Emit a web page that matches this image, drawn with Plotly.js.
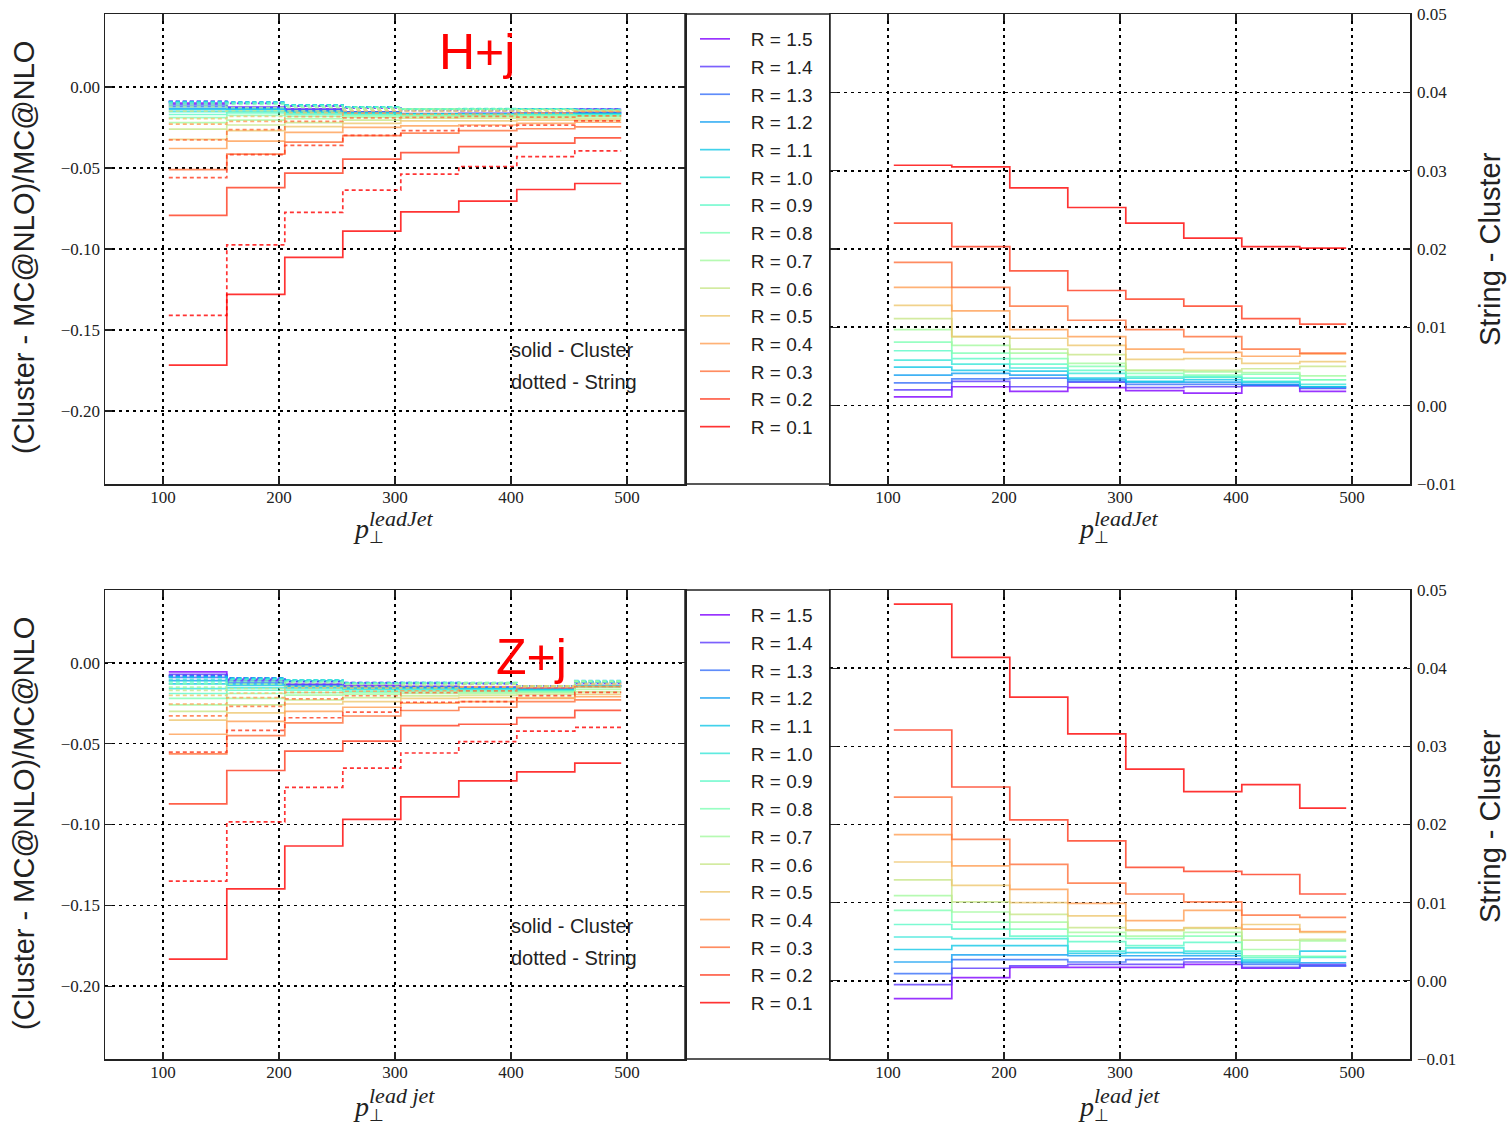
<!DOCTYPE html>
<html>
<head>
<meta charset="utf-8">
<script src="https://cdn.plot.ly/plotly-3.0.1.min.js"></script>
<style>
html,body{margin:0;padding:0;background:#fff;}
#chart{width:1511px;height:1134px;}
</style>
</head>
<body>
<div id="chart"></div>
<script>
// ---------------- DATA ----------------
// jet radius R (rows of every table below follow this order)
const R_LABELS = ['0.1','0.2','0.3','0.4','0.5','0.6','0.7','0.8','0.9','1.0','1.1','1.2','1.3','1.4','1.5'];
// pT(lead jet) bin edges
const PT_EDGES = [105, 155, 205, 255, 305, 355, 405, 455, 495];

// H+j : (Cluster - MC@NLO)/MC@NLO   (solid)
const HJ_CLUSTER = [
  [-0.1716,-0.1280,-0.1052,-0.0890,-0.0771,-0.0705,-0.0633,-0.0596],
  [-0.0793,-0.0621,-0.0532,-0.0446,-0.0405,-0.0368,-0.0347,-0.0314],
  [-0.0510,-0.0415,-0.0340,-0.0300,-0.0285,-0.0270,-0.0258,-0.0246],
  [-0.0380,-0.0334,-0.0280,-0.0250,-0.0240,-0.0235,-0.0225,-0.0218],
  [-0.0324,-0.0270,-0.0245,-0.0225,-0.0210,-0.0210,-0.0205,-0.0205],
  [-0.0260,-0.0235,-0.0220,-0.0205,-0.0192,-0.0192,-0.0192,-0.0195],
  [-0.0220,-0.0205,-0.0195,-0.0188,-0.0182,-0.0182,-0.0183,-0.0185],
  [-0.0190,-0.0175,-0.0180,-0.0178,-0.0176,-0.0176,-0.0177,-0.0180],
  [-0.0170,-0.0160,-0.0168,-0.0170,-0.0172,-0.0172,-0.0172,-0.0174],
  [-0.0153,-0.0150,-0.0160,-0.0165,-0.0170,-0.0170,-0.0168,-0.0170],
  [-0.0140,-0.0140,-0.0155,-0.0160,-0.0168,-0.0168,-0.0166,-0.0166],
  [-0.0132,-0.0135,-0.0150,-0.0158,-0.0166,-0.0166,-0.0164,-0.0163],
  [-0.0120,-0.0130,-0.0145,-0.0156,-0.0166,-0.0165,-0.0163,-0.0161],
  [-0.0110,-0.0127,-0.0140,-0.0155,-0.0165,-0.0165,-0.0162,-0.0158],
  [-0.0100,-0.0125,-0.0136,-0.0154,-0.0166,-0.0164,-0.0163,-0.0156]
];
// H+j : (String - MC@NLO)/MC@NLO   (dotted)
const HJ_STRING = [
  [-0.1409,-0.0975,-0.0774,-0.0637,-0.0538,-0.0491,-0.0430,-0.0395],
  [-0.0560,-0.0418,-0.0360,-0.0299,-0.0269,-0.0241,-0.0236,-0.0210],
  [-0.0327,-0.0264,-0.0213,-0.0191,-0.0188,-0.0182,-0.0186,-0.0179],
  [-0.0229,-0.0213,-0.0183,-0.0162,-0.0168,-0.0167,-0.0162,-0.0152],
  [-0.0196,-0.0182,-0.0159,-0.0148,-0.0151,-0.0150,-0.0151,-0.0149],
  [-0.0149,-0.0147,-0.0148,-0.0140,-0.0147,-0.0147,-0.0145,-0.0145],
  [-0.0123,-0.0128,-0.0128,-0.0134,-0.0137,-0.0139,-0.0141,-0.0147],
  [-0.0109,-0.0108,-0.0120,-0.0128,-0.0135,-0.0137,-0.0137,-0.0147],
  [-0.0100,-0.0100,-0.0115,-0.0125,-0.0135,-0.0135,-0.0137,-0.0141],
  [-0.0095,-0.0097,-0.0112,-0.0124,-0.0135,-0.0134,-0.0137,-0.0143],
  [-0.0091,-0.0095,-0.0111,-0.0125,-0.0137,-0.0135,-0.0136,-0.0142],
  [-0.0093,-0.0094,-0.0111,-0.0125,-0.0136,-0.0136,-0.0137,-0.0139],
  [-0.0091,-0.0096,-0.0110,-0.0125,-0.0139,-0.0138,-0.0137,-0.0138],
  [-0.0090,-0.0096,-0.0116,-0.0125,-0.0142,-0.0141,-0.0137,-0.0136],
  [-0.0089,-0.0101,-0.0118,-0.0131,-0.0147,-0.0148,-0.0137,-0.0138]
];
// H+j : String - Cluster
const HJ_DIFF = [
  [0.0307,0.0305,0.0278,0.0253,0.0233,0.0214,0.0203,0.0201],
  [0.0233,0.0203,0.0172,0.0147,0.0136,0.0127,0.0111,0.0104],
  [0.0183,0.0151,0.0127,0.0109,0.0097,0.0088,0.0072,0.0067],
  [0.0151,0.0121,0.0097,0.0088,0.0072,0.0068,0.0063,0.0066],
  [0.0128,0.0088,0.0086,0.0077,0.0059,0.0060,0.0054,0.0056],
  [0.0111,0.0088,0.0072,0.0065,0.0045,0.0045,0.0047,0.0050],
  [0.0097,0.0077,0.0067,0.0054,0.0045,0.0043,0.0042,0.0038],
  [0.0081,0.0067,0.0060,0.0050,0.0041,0.0039,0.0040,0.0033],
  [0.0070,0.0060,0.0053,0.0045,0.0037,0.0037,0.0035,0.0033],
  [0.0058,0.0053,0.0048,0.0041,0.0035,0.0036,0.0031,0.0027],
  [0.0049,0.0045,0.0044,0.0035,0.0031,0.0033,0.0030,0.0024],
  [0.0039,0.0041,0.0039,0.0033,0.0030,0.0030,0.0027,0.0024],
  [0.0029,0.0034,0.0035,0.0031,0.0027,0.0027,0.0026,0.0023],
  [0.0020,0.0031,0.0024,0.0030,0.0023,0.0024,0.0025,0.0022],
  [0.0011,0.0024,0.0018,0.0023,0.0019,0.0016,0.0026,0.0018]
];

// Z+j : (Cluster - MC@NLO)/MC@NLO   (solid)
const ZJ_CLUSTER = [
  [-0.1832,-0.1398,-0.1133,-0.0968,-0.0829,-0.0730,-0.0674,-0.0620],
  [-0.0873,-0.0666,-0.0546,-0.0484,-0.0389,-0.0380,-0.0339,-0.0294],
  [-0.0563,-0.0450,-0.0372,-0.0329,-0.0295,-0.0275,-0.0240,-0.0229],
  [-0.0442,-0.0362,-0.0300,-0.0275,-0.0250,-0.0240,-0.0220,-0.0210],
  [-0.0354,-0.0310,-0.0255,-0.0240,-0.0220,-0.0215,-0.0215,-0.0195],
  [-0.0300,-0.0260,-0.0230,-0.0215,-0.0205,-0.0200,-0.0195,-0.0180],
  [-0.0260,-0.0220,-0.0200,-0.0195,-0.0190,-0.0188,-0.0185,-0.0165],
  [-0.0220,-0.0190,-0.0185,-0.0185,-0.0180,-0.0180,-0.0180,-0.0150],
  [-0.0190,-0.0170,-0.0170,-0.0175,-0.0170,-0.0172,-0.0175,-0.0145],
  [-0.0160,-0.0155,-0.0160,-0.0165,-0.0165,-0.0165,-0.0170,-0.0145],
  [-0.0130,-0.0140,-0.0150,-0.0160,-0.0160,-0.0160,-0.0168,-0.0148],
  [-0.0110,-0.0130,-0.0145,-0.0155,-0.0155,-0.0158,-0.0165,-0.0142],
  [-0.0090,-0.0120,-0.0140,-0.0150,-0.0150,-0.0155,-0.0163,-0.0140],
  [-0.0072,-0.0110,-0.0135,-0.0145,-0.0148,-0.0152,-0.0160,-0.0142],
  [-0.0056,-0.0105,-0.0132,-0.0140,-0.0145,-0.0150,-0.0158,-0.0145]
];
// Z+j : (String - MC@NLO)/MC@NLO   (dotted)
const ZJ_STRING = [
  [-0.1350,-0.0984,-0.0770,-0.0652,-0.0558,-0.0488,-0.0423,-0.0399],
  [-0.0552,-0.0418,-0.0340,-0.0305,-0.0244,-0.0240,-0.0203,-0.0183],
  [-0.0328,-0.0269,-0.0223,-0.0204,-0.0184,-0.0174,-0.0156,-0.0148],
  [-0.0255,-0.0215,-0.0183,-0.0176,-0.0173,-0.0150,-0.0154,-0.0147],
  [-0.0202,-0.0188,-0.0155,-0.0157,-0.0155,-0.0147,-0.0143,-0.0133],
  [-0.0171,-0.0159,-0.0145,-0.0147,-0.0141,-0.0133,-0.0143,-0.0127],
  [-0.0151,-0.0132,-0.0125,-0.0133,-0.0133,-0.0126,-0.0145,-0.0114],
  [-0.0130,-0.0115,-0.0119,-0.0128,-0.0126,-0.0123,-0.0148,-0.0119],
  [-0.0118,-0.0104,-0.0113,-0.0125,-0.0125,-0.0123,-0.0145,-0.0114],
  [-0.0104,-0.0101,-0.0106,-0.0127,-0.0123,-0.0127,-0.0143,-0.0115],
  [-0.0090,-0.0095,-0.0105,-0.0125,-0.0124,-0.0125,-0.0143,-0.0110],
  [-0.0086,-0.0097,-0.0112,-0.0123,-0.0123,-0.0126,-0.0142,-0.0119],
  [-0.0081,-0.0093,-0.0113,-0.0126,-0.0123,-0.0127,-0.0142,-0.0121],
  [-0.0077,-0.0094,-0.0116,-0.0124,-0.0127,-0.0128,-0.0143,-0.0121],
  [-0.0079,-0.0101,-0.0115,-0.0123,-0.0128,-0.0129,-0.0142,-0.0126]
];
// Z+j : String - Cluster
const ZJ_DIFF = [
  [0.0482,0.0414,0.0363,0.0316,0.0271,0.0242,0.0251,0.0221],
  [0.0321,0.0248,0.0206,0.0179,0.0145,0.0140,0.0136,0.0111],
  [0.0235,0.0181,0.0149,0.0125,0.0111,0.0101,0.0084,0.0081],
  [0.0187,0.0147,0.0117,0.0099,0.0077,0.0090,0.0066,0.0063],
  [0.0152,0.0122,0.0100,0.0083,0.0065,0.0068,0.0072,0.0062],
  [0.0129,0.0101,0.0085,0.0068,0.0064,0.0067,0.0052,0.0053],
  [0.0109,0.0088,0.0075,0.0062,0.0057,0.0062,0.0040,0.0051],
  [0.0090,0.0075,0.0066,0.0057,0.0054,0.0057,0.0032,0.0031],
  [0.0072,0.0066,0.0057,0.0050,0.0045,0.0049,0.0030,0.0031],
  [0.0056,0.0054,0.0054,0.0038,0.0042,0.0038,0.0027,0.0030],
  [0.0040,0.0045,0.0045,0.0035,0.0036,0.0035,0.0025,0.0038],
  [0.0024,0.0033,0.0033,0.0032,0.0032,0.0032,0.0023,0.0023],
  [0.0009,0.0027,0.0027,0.0024,0.0027,0.0028,0.0021,0.0019],
  [-0.0005,0.0016,0.0019,0.0021,0.0021,0.0024,0.0017,0.0021],
  [-0.0023,0.0004,0.0017,0.0017,0.0017,0.0021,0.0016,0.0019]
];

// ---------------- STYLE / LAYOUT ----------------
const W = 1511, H = 1134;
const px = x => x / W;
const py = y => 1 - y / H;

function rainbow(t) {
  const r = Math.min(1, Math.abs(2 * t - 0.5));
  const g = Math.sin(Math.PI * t);
  const b = Math.cos(Math.PI * t / 2);
  return 'rgb(' + Math.round(255 * r) + ',' + Math.round(255 * g) + ',' + Math.round(255 * b) + ')';
}
const N = R_LABELS.length;
const colorOf = k => rainbow(k === 0 ? 1 : 1 - k / (N - 1)); // R=1.5 purple ... R=0.1 red

function stepY(v) { return v.concat([v[v.length - 1]]); }

const NBSP = '\u00a0\u00a0\u00a0';
const traces = [];
function addPanel(solid, dotted, diff, xl, yl, xr, yr, legendId) {
  for (let k = N - 1; k >= 0; k--) {
    const c = colorOf(k);
    traces.push({
      x: PT_EDGES, y: stepY(solid[k]), xaxis: xl, yaxis: yl,
      type: 'scatter', mode: 'lines', name: NBSP + 'R = ' + R_LABELS[k],
      legend: legendId, showlegend: true, opacity: 0.8,
      line: {shape: 'hv', color: c, width: 1.7}
    });
    traces.push({
      x: PT_EDGES, y: stepY(dotted[k]), xaxis: xl, yaxis: yl,
      type: 'scatter', mode: 'lines', showlegend: false, opacity: 0.8,
      line: {shape: 'hv', color: c, width: 1.7, dash: '4px,3px'}
    });
    traces.push({
      x: PT_EDGES, y: stepY(diff[k]), xaxis: xr, yaxis: yr,
      type: 'scatter', mode: 'lines', showlegend: false, opacity: 0.8,
      line: {shape: 'hv', color: c, width: 1.7}
    });
  }
}
addPanel(HJ_CLUSTER, HJ_STRING, HJ_DIFF, 'x', 'y', 'x2', 'y2', 'legend');
addPanel(ZJ_CLUSTER, ZJ_STRING, ZJ_DIFF, 'x3', 'y3', 'x4', 'y4', 'legend2');

const axisBase = {
  showline: true, linecolor: '#222', linewidth: 1.5, mirror: 'ticks',
  ticks: 'inside', ticklen: 7, tickwidth: 1.3, tickcolor: '#222',
  showgrid: true, gridcolor: '#000', gridwidth: 1.7, griddash: '3px,4px',
  zeroline: false,
  tickfont: {family: 'Liberation Serif', size: 17, color: '#222'}
};
const xAx = (dom, anchor) => Object.assign({}, axisBase, {
  domain: dom, anchor: anchor, range: [50, 550], tick0: 0, dtick: 100, ticklabelstandoff: -3
});
const yLeft = (dom, anchor) => Object.assign({}, axisBase, {
  domain: dom, anchor: anchor, range: [-0.245, 0.045], tick0: 0, dtick: 0.05, tickformat: '.2f'
});
const yRight = (dom, anchor) => Object.assign({}, axisBase, {
  domain: dom, anchor: anchor, side: 'right', range: [-0.01002, 0.05002], tick0: 0, dtick: 0.01,
  tickformat: '.2f', ticklabelstandoff: 2
});

const leftDom = [px(105), px(685)];
const rightDom = [px(830), px(1410)];
const topDom = [py(484), py(14)];
const botDom = [py(1059), py(590)];

const legendBase = {
  xanchor: 'left', yanchor: 'top', bgcolor: 'rgba(0,0,0,0)', borderwidth: 0,
  font: {family: 'Liberation Sans', size: 19, color: '#222'},
  itemwidth: 30, tracegroupgap: 0, traceorder: 'normal'
};

const sans = 'Liberation Sans';
const serif = 'Liberation Serif';
const ann = [];
function txt(x, y, text, size, color, family, xanchor, extra) {
  ann.push(Object.assign({
    x: px(x), y: py(y), xref: 'paper', yref: 'paper', text: text, showarrow: false,
    xanchor: xanchor || 'center', yanchor: 'middle',
    font: {family: family || sans, size: size, color: color || '#222'}
  }, extra || {}));
}
// panel labels
txt(477, 52, 'H+j', 50, '#ff0000');
txt(531, 657, 'Z+j', 50, '#ff0000');
// line style notes
txt(509, 350, 'solid - Cluster', 20, '#222', sans, 'left');
txt(509, 382, 'dotted - String', 20, '#222', sans, 'left');
txt(509, 926, 'solid - Cluster', 20, '#222', sans, 'left');
txt(509, 958, 'dotted - String', 20, '#222', sans, 'left');
// y titles
txt(24, 248, '(Cluster - MC@NLO)/MC@NLO', 29, '#222', sans, 'center', {textangle: -90});
txt(24, 824, '(Cluster - MC@NLO)/MC@NLO', 29, '#222', sans, 'center', {textangle: -90});
txt(1490, 249, 'String - Cluster', 29, '#222', sans, 'center', {textangle: -90});
txt(1490, 826, 'String - Cluster', 29, '#222', sans, 'center', {textangle: -90});
// x titles  p_perp^{lead jet}
function xTitle(cx, cy, sup) {
  txt(cx - 34, cy + 11, '<i>p</i>', 28, '#222', serif, 'center');
  txt(cx - 19, cy + 20, '⊥', 17, '#222', serif, 'center');
  txt(cx - 28, cy, '<i>' + sup + '</i>', 22, '#222', serif, 'left');
}
xTitle(395, 518, 'leadJet');
xTitle(1120, 518, 'leadJet');
xTitle(395, 1095, 'lead jet');
xTitle(1120, 1095, 'lead jet');

const shapes = [
  {type: 'rect', xref: 'paper', yref: 'paper', x0: px(685), x1: px(830), y0: py(484), y1: py(14),
   line: {color: '#222', width: 1.5}},
  {type: 'rect', xref: 'paper', yref: 'paper', x0: px(685), x1: px(830), y0: py(1059), y1: py(590),
   line: {color: '#222', width: 1.5}}
];

const layout = {
  width: W, height: H,
  margin: {l: 0, r: 0, t: 0, b: 0},
  paper_bgcolor: '#fff', plot_bgcolor: '#fff',
  showlegend: true,
  xaxis: xAx(leftDom, 'y'), yaxis: yLeft(topDom, 'x'),
  xaxis2: xAx(rightDom, 'y2'), yaxis2: yRight(topDom, 'x2'),
  xaxis3: xAx(leftDom, 'y3'), yaxis3: yLeft(botDom, 'x3'),
  xaxis4: xAx(rightDom, 'y4'), yaxis4: yRight(botDom, 'x4'),
  legend: Object.assign({}, legendBase, {x: px(695), y: py(20)}),
  legend2: Object.assign({}, legendBase, {x: px(695), y: py(596)}),
  annotations: ann,
  shapes: shapes
};

Plotly.newPlot('chart', traces, layout, {staticPlot: true, displayModeBar: false});
</script>
</body>
</html>
